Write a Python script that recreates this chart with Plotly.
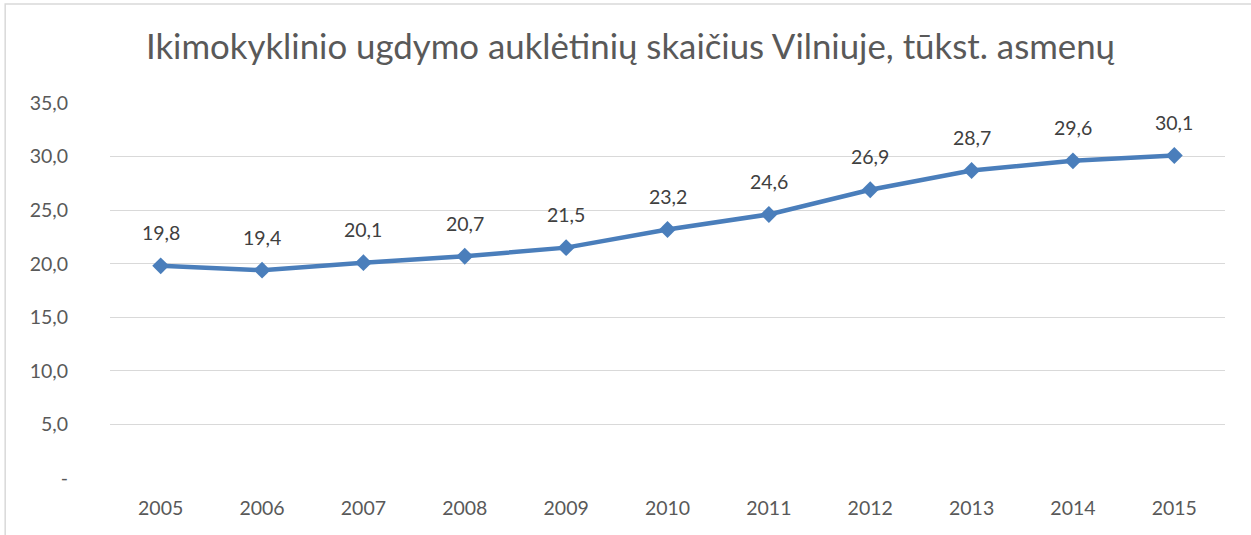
import plotly.graph_objects as go

years = ["2005", "2006", "2007", "2008", "2009", "2010", "2011", "2012", "2013", "2014", "2015"]
values = [19.8, 19.4, 20.1, 20.7, 21.5, 23.2, 24.6, 26.9, 28.7, 29.6, 30.1]
y_tickvals = [0, 5, 10, 15, 20, 25, 30, 35]
y_ticktext = ["-", "5,0", "10,0", "15,0", "20,0", "25,0", "30,0", "35,0"]
title_text = "Ikimokyklinio ugdymo auklėtinių skaičius Vilniuje, tūkst. asmenų"

font_family = "Lato, Open Sans, sans-serif"

fig = go.Figure()
fig.add_trace(go.Scatter(
    x=years, y=values, mode="lines+markers",
    line=dict(color="#4a7ebb", width=4.5),
    marker=dict(symbol="diamond", size=13, color="#4a7ebb"),
    hoverinfo="skip", showlegend=False,
))

for i, v in enumerate(values):
    fig.add_annotation(
        x=i, y=v, text=f"{v:.1f}".replace(".", ","), showarrow=False,
        yshift=33, font=dict(family=font_family, size=19.5, color="#404040"),
    )

fig.update_layout(
    width=1251, height=535,
    margin=dict(l=110, r=26, t=103, b=57),
    paper_bgcolor="white", plot_bgcolor="white",
    title=dict(text=title_text, x=0.504, xanchor="center", y=0.912, yanchor="middle",
               font=dict(family=font_family, size=34.8, color="#595959")),
    font=dict(family=font_family, color="#595959"),
    shapes=[dict(type="rect", xref="paper", yref="paper", x0=-0.094, x1=1.1, y0=-0.3, y1=1.264,
                 line=dict(color="#d9d9d9", width=1.5), layer="below")],
)
fig.update_xaxes(
    type="category", range=[-0.5, 10.5], autorange=False,
    showgrid=False, showline=False, zeroline=False,
    ticks="", tickfont=dict(size=19.5, color="#595959"), ticklabelstandoff=16,
)
fig.update_yaxes(
    range=[0, 35], tickvals=y_tickvals, ticktext=y_ticktext,
    showgrid=True, gridcolor="#d9d9d9", gridwidth=1.3, zeroline=False, showline=False,
    ticks="", tickfont=dict(size=19.5, color="#595959"), ticklabelstandoff=41,
)

fig.write_html("out.html", config={"displayModeBar": False},
               post_script="document.body.style.margin='0';")
